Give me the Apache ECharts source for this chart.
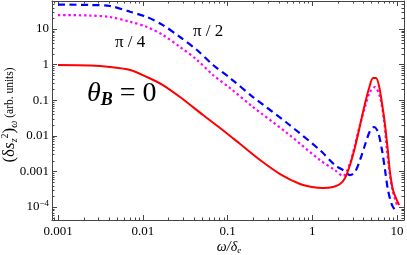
<!DOCTYPE html>
<html><head><meta charset="utf-8">
<script src="https://cdn.jsdelivr.net/npm/echarts@6/dist/echarts.min.js"></script>
<style>html,body{margin:0;padding:0;background:#fff}#c{width:407px;height:255px}</style>
</head><body><div id="c"></div>
<script>
// ---- data (x = ω/δe, y = (δs_z^2)_ω) ----
const redX = [0.001,0.00239,0.00411,0.00708,0.0112,0.0173,0.0275,0.0514,0.0817,0.141,0.242,0.417,0.718,0.993,1.34,1.76,2.13,2.44,2.79,3.2,3.67,4.21,4.69,5.22,5.65,6.14,6.65,7.23,7.83,8.26,8.97,9.73,10.6];
const redY = [0.975,0.944,0.857,0.705,0.449,0.267,0.123,0.0384,0.0166,0.00589,0.00209,0.000845,0.000443,0.000365,0.000342,0.000365,0.000443,0.000653,0.00151,0.00484,0.0201,0.0834,0.22,0.421,0.421,0.251,0.0834,0.0201,0.00351,0.00096,0.0003,0.000179,0.000114];

const blueX = [0.001,0.00239,0.00411,0.00708,0.0112,0.0173,0.0275,0.0437,0.0675,0.107,0.2,0.504,1.23,1.85,2.31,2.79,3.19,3.66,4.19,4.8,5.36,5.97,6.65,7.23,7.83,8.73,10.0];
const blueY = [48.7,47.2,44.3,30.6,21.7,12.9,5.96,2.57,0.975,0.421,0.123,0.0229,0.00399,0.00151,0.00109,0.000792,0.00096,0.00209,0.00552,0.0136,0.0177,0.0128,0.00399,0.00109,0.0003,0.000114,0.0000678];

const magX = [0.001,0.00239,0.00411,0.00708,0.0112,0.0173,0.0275,0.0437,0.0675,0.107,0.2,0.504,1.23,1.85,2.31,2.79,3.19,3.66,4.19,4.8,5.5,6.3,7.03,7.62,8.26,8.97,10.0];
const magY = [24.7,23.9,21.7,16.0,11.4,6.78,3.12,1.35,0.51,0.22,0.0644,0.012,0.00209,0.00109,0.000743,0.00172,0.00552,0.0201,0.0644,0.17,0.235,0.123,0.0278,0.00399,0.000792,0.000264,0.000114];

const xTickValues = [0.001, 0.01, 0.1, 1, 10];
const xTickLabels = ['0.001', '0.01', '0.1', '1', '10'];
const yTickValues = [0.0001, 0.001, 0.01, 0.1, 1, 10];
const yTickLabels = ['10{sup|−4}', '0.001', '0.01', '0.1', '1', '10'];

const xMin = 0.000849, xMax = 12.1;
const yMin = 4.32e-5, yMax = 61.2;

const xMinor = [], yMinor = [];
for (let e = -4; e <= 1; e++) for (let k = 2; k <= 9; k++) {
  const v = k * Math.pow(10, e);
  if (v > xMin && v < xMax) xMinor.push([v, 1]);
}
for (let e = -5; e <= 1; e++) for (let k = 2; k <= 9; k++) {
  const v = k * Math.pow(10, e);
  if (v > yMin && v < yMax) yMinor.push([1, v]);
}

function pairs(xs, ys) { return xs.map((x, i) => [x, ys[i]]); }
function fmt(vals, labels) {
  return function (v) {
    for (let i = 0; i < vals.length; i++) {
      if (Math.abs(Math.log10(v) - Math.log10(vals[i])) < 0.01) return labels[i];
    }
    return '';
  };
}

const FONT = '"Liberation Serif", "DejaVu Serif", serif';
const FRAME = '#444';
const chart = echarts.init(document.getElementById('c'), null, {renderer: 'canvas'});

const axisCommon = {
  type: 'log', logBase: 10,
  axisLine: {show: true, lineStyle: {color: FRAME, width: 1}},
  axisTick: {show: true, inside: true, length: 5, lineStyle: {color: FRAME, width: 1}},
  splitLine: {show: false},
  minorTick: {show: false}
};

chart.setOption({
  animation: false,
  textStyle: {fontFamily: FONT},
  grid: {left: 52, right: 3, top: 1, bottom: 35, containLabel: false, outerBoundsMode: 'none'},
  xAxis: [
    Object.assign({}, axisCommon, {
      position: 'bottom', min: xMin, max: xMax,
      axisLabel: {show: true, color: '#000', fontSize: 13, fontFamily: FONT, margin: 5,
        showMinLabel: false, showMaxLabel: false, formatter: fmt(xTickValues, xTickLabels)}
    }),
    Object.assign({}, axisCommon, {
      position: 'top', min: xMin, max: xMax, axisLabel: {show: false}
    })
  ],
  yAxis: [
    Object.assign({}, axisCommon, {
      position: 'left', min: yMin, max: yMax,
      axisLabel: {show: true, color: '#000', fontSize: 13, fontFamily: FONT, margin: 3,
        showMinLabel: false, showMaxLabel: false, formatter: fmt(yTickValues, yTickLabels),
        rich: {sup: {fontSize: 9, fontFamily: FONT, color: '#000', verticalAlign: 'top', lineHeight: 15}}}
    }),
    Object.assign({}, axisCommon, {
      position: 'right', min: yMin, max: yMax, axisLabel: {show: false}
    })
  ],
  graphic: [
    {type: 'text', left: 193, top: 23, style: {text: 'π / 2', font: '17px ' + FONT, fill: '#000'}},
    {type: 'text', left: 115, top: 34, style: {text: 'π / 4', font: '17px ' + FONT, fill: '#000'}},
    {type: 'text', left: 87, top: 80, style: {
      text: '{t|θ}{b|B}{e| = 0}',
      rich: {
        t: {fontSize: 28, fontStyle: 'italic', fontFamily: FONT, fill: '#000', lineHeight: 30, verticalAlign: 'middle'},
        b: {fontSize: 18, fontStyle: 'italic', fontWeight: 'bold', fontFamily: FONT, fill: '#000', lineHeight: 30, verticalAlign: 'bottom'},
        e: {fontSize: 28, fontFamily: FONT, fill: '#000', lineHeight: 30, verticalAlign: 'middle'}
      }
    }},
    {type: 'text', x: 10, y: 115, rotation: Math.PI / 2, style: {
      text: '{a|(δ}{i|s}{sub|z}{sup|2}{a|)}{sub|ω}{c| (arb. units)}',
      align: 'center', verticalAlign: 'middle',
      rich: {
        a: {fontSize: 17, fontFamily: FONT, fill: '#000', lineHeight: 19, verticalAlign: 'middle'},
        i: {fontSize: 17, fontStyle: 'italic', fontFamily: FONT, fill: '#000', lineHeight: 19, verticalAlign: 'middle'},
        sub: {fontSize: 10, fontStyle: 'italic', fontFamily: FONT, fill: '#000', lineHeight: 19, verticalAlign: 'bottom'},
        sup: {fontSize: 10, fontFamily: FONT, fill: '#000', lineHeight: 19, verticalAlign: 'top'},
        c: {fontSize: 11.5, fontFamily: FONT, fill: '#000', lineHeight: 19, verticalAlign: 'middle'}
      }
    }},
    {type: 'text', x: 229, y: 247, style: {
      text: '{i|ω/δ}{sub|e}', align: 'center', verticalAlign: 'middle',
      rich: {
        i: {fontSize: 14, fontStyle: 'italic', fontFamily: FONT, fill: '#000', lineHeight: 16, verticalAlign: 'middle'},
        sub: {fontSize: 9, fontStyle: 'italic', fontFamily: FONT, fill: '#000', lineHeight: 16, verticalAlign: 'bottom'}
      }
    }}
  ],
  series: [
    {type: 'line', name: 'θB=0', data: pairs(redX, redY), showSymbol: false, smooth: 0.3,
      lineStyle: {color: '#ff0000', width: 2}, z: 5},
    {type: 'line', name: 'π/4', data: pairs(magX, magY), showSymbol: false, smooth: 0.3,
      lineStyle: {color: '#ff00ff', width: 2.2, type: [2.4, 2.8]}, z: 4},
    {type: 'line', name: 'π/2', data: pairs(blueX, blueY), showSymbol: false, smooth: 0.3,
      lineStyle: {color: '#0000ff', width: 2.2, type: [7, 4.5]}, z: 3},
    {type: 'custom', data: xMinor, silent: true, clip: false, z: 10,
      renderItem: function (params, api) {
        const cs = params.coordSys;
        const p = api.coord([api.value(0), api.value(1)]);
        const st = {stroke: FRAME, lineWidth: 1};
        const x = Math.round(p[0]) + 0.5;
        return {type: 'group', children: [
          {type: 'line', shape: {x1: x, y1: cs.y + cs.height, x2: x, y2: cs.y + cs.height - 2.5}, style: st},
          {type: 'line', shape: {x1: x, y1: cs.y, x2: x, y2: cs.y + 2.5}, style: st}
        ]};
      }},
    {type: 'custom', data: yMinor, silent: true, clip: false, z: 10,
      renderItem: function (params, api) {
        const cs = params.coordSys;
        const p = api.coord([api.value(0), api.value(1)]);
        const st = {stroke: FRAME, lineWidth: 1};
        const y = Math.round(p[1]) + 0.5;
        return {type: 'group', children: [
          {type: 'line', shape: {x1: cs.x, y1: y, x2: cs.x + 2.5, y2: y}, style: st},
          {type: 'line', shape: {x1: cs.x + cs.width, y1: y, x2: cs.x + cs.width - 2.5, y2: y}, style: st}
        ]};
      }}
  ]
});
</script>
</body></html>
